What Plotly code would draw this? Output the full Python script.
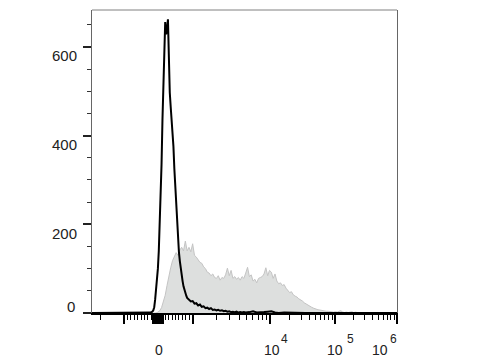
import numpy as np
import plotly.graph_objects as go

# ---------------- data (display channel units 0..1000, counts) ----------------
black_ch = [0, 150, 186, 189, 192, 195, 198, 201, 204, 207, 210, 213, 216, 219, 222, 225, 228, 231,
            234, 237, 240, 243, 246, 249, 252, 255, 258, 261, 264, 267, 270, 273, 276, 279, 282,
            285, 288, 291, 294, 297, 300, 303, 306, 309, 312, 318, 324, 330, 336, 342, 348, 354,
            360, 366, 372, 378, 384, 390, 396, 402, 408, 414, 420, 426, 432, 438, 444, 450, 456,
            462, 468, 474, 480, 486, 492, 498, 504, 516, 528, 540, 552, 564, 576, 588, 600, 612,
            630, 660, 700, 800, 1000]
black_counts = [0, 0, 0, 0, 1, 2, 3, 6, 13, 30, 52, 76, 100, 140, 192, 255, 335, 435,
                530, 615, 656, 628, 640, 662, 550, 497, 465, 437, 410, 375, 325, 285, 232, 192, 160,
                137, 117, 98, 85, 72, 60, 51, 44, 39, 34, 30, 26, 27, 21, 22, 17, 19,
                14, 15, 11, 12, 9, 11, 7, 8, 6, 7, 5, 6, 4, 5, 3, 4, 2,
                3, 2, 3, 1, 2, 1, 2, 1, 2, 4, 1, 1, 2, 3, 4, 1, 0,
                1, 0, 0, 0, 0]

gray_ch = [204, 210, 216, 222, 228, 234, 240, 246, 252, 258, 264, 270, 276, 282, 288, 294, 300,
           306, 312, 318, 324, 330, 336, 342, 348, 354, 360, 366, 372, 378, 384, 390, 396, 402,
           408, 414, 420, 426, 432, 438, 444, 450, 456, 462, 468, 474, 480, 486, 492, 498, 504,
           510, 516, 522, 528, 534, 540, 546, 552, 558, 564, 570, 576, 582, 588, 594, 600, 606,
           612, 618, 624, 630, 636, 642, 648, 654, 660, 666, 672, 678, 684, 690, 696, 702, 708,
           714, 720, 726, 732, 738, 744, 750, 756, 762, 768, 774, 780, 786, 792, 798, 804, 810,
           816, 822, 828, 834, 840, 846, 852, 858, 864, 870, 876, 882]
gray_counts = [0, 0, 2, 5, 12, 24, 40, 62, 85, 102, 118, 128, 136, 130, 142, 148, 140,
               162, 140, 148, 138, 156, 130, 126, 120, 114, 112, 104, 100, 92, 90, 84, 88, 80,
               78, 84, 74, 80, 78, 86, 101, 84, 96, 78, 82, 76, 80, 74, 82, 78, 90,
               103, 82, 86, 72, 76, 68, 78, 80, 82, 88, 102, 84, 96, 92, 78, 88, 72,
               66, 68, 62, 64, 56, 52, 46, 48, 41, 38, 36, 32, 30, 27, 23, 20, 18,
               15, 13, 11, 9, 8, 7, 6, 5, 5, 4, 4, 3, 3, 2, 3, 2, 4,
               5, 2, 1, 2, 1, 2, 3, 1, 2, 1, 0, 0]

y_major = [0, 200, 400, 600]
y_labels = ["", "200", "400", "600"]

x_major_vals = [-1000, 0, 1000, 10000, 100000, 1000000]
x_label_vals = [0, 10000, 100000, 1000000]
x_label_exps = ["", "4", "5", "6"]


# ---------------- logicle-like display scale ----------------
def to_channel(v):
    if 0 <= v <= 1000:
        return 216.4 + v * (331.1 - 216.4) / 1000
    if -1000 <= v < 0:
        return 216.4 + v * (216.4 - 104.9) / 1000
    if v > 1000:
        return float(np.interp(np.log10(v), [3, 4, 5, 6], [331.1, 583.6, 796.7, 1000.0]))
    return 104.9 - (np.log10(-v) - 3) * (583.6 - 331.1)


major_vals = list(x_major_vals) + [v for v in range(-140, 150, 10) if v != 0]
minor_vals = [-2000] + list(range(-900, 0, 100)) + list(range(100, 1000, 100))
for e in (3, 4, 5):
    minor_vals += [k * 10 ** e for k in range(2, 10)]

FONT = "Liberation Sans, Arial, sans-serif"
TXT = "#222222"

fig = go.Figure()
fig.add_trace(go.Scatter(x=gray_ch, y=gray_counts, mode="lines", fill="tozeroy",
                         fillcolor="rgb(221,223,222)",
                         line=dict(color="rgb(196,196,196)", width=1),
                         hoverinfo="skip", showlegend=False))
fig.add_trace(go.Scatter(x=black_ch, y=black_counts, mode="lines",
                         line=dict(color="black", width=2),
                         hoverinfo="skip", showlegend=False))

fig.update_layout(
    width=480, height=360,
    margin=dict(l=92, r=83, t=10, b=47),
    paper_bgcolor="white", plot_bgcolor="white",
    font=dict(family=FONT, color=TXT),
    xaxis=dict(
        range=[0, 1000], showgrid=False, zeroline=False,
        showline=True, linecolor="black", linewidth=2, mirror=False,
        tickmode="array", tickvals=[to_channel(v) for v in major_vals],
        ticktext=["" for _ in major_vals],
        ticks="outside", ticklen=9, tickwidth=2, tickcolor="black",
        minor=dict(tickmode="array", tickvals=[to_channel(v) for v in minor_vals],
                   ticks="outside", ticklen=5, tickwidth=1, tickcolor="black"),
    ),
    yaxis=dict(
        range=[0, 683], showgrid=False, zeroline=False,
        showline=True, linecolor="#666666", linewidth=1, mirror=True,
        tickmode="array", tickvals=y_major, ticktext=y_labels,
        ticks="outside", ticklen=8, tickwidth=2, tickcolor="#222222",
        tickfont=dict(size=15, family=FONT, color=TXT),
        ticklabelshift=9, ticklabelstandoff=3,
        minor=dict(dtick=50, ticks="outside", ticklen=4, tickwidth=1, tickcolor="#333333"),
    ),
    shapes=[dict(type="line", xref="paper", yref="paper", x0=0, x1=1, y0=1, y1=1,
                 line=dict(color="#808080", width=1))],
)

# y label "0"
fig.add_annotation(text="0", xref="paper", yref="y", x=0, y=0, xanchor="right",
                   yanchor="middle", xshift=-15, yshift=7, showarrow=False,
                   font=dict(size=15, family=FONT, color=TXT))

# x labels
base_shift = {0: 0.5, 10000: 1.5, 100000: 0.5, 1000000: -17}
sup_shift = {10000: 9, 100000: 10, 1000000: -9}
for v, ex in zip(x_label_vals, x_label_exps):
    xc = to_channel(v)
    if ex == "":
        fig.add_annotation(text="0", x=xc, xref="x", yref="paper", y=0, yanchor="middle",
                           xanchor="center", xshift=base_shift[v], yshift=-37, showarrow=False,
                           font=dict(size=14, family=FONT, color=TXT))
    else:
        fig.add_annotation(text="10", x=xc, xref="x", yref="paper", y=0, yanchor="middle",
                           xanchor="center", xshift=base_shift[v], yshift=-37, showarrow=False,
                           font=dict(size=14, family=FONT, color=TXT))
        fig.add_annotation(text=ex, x=xc, xref="x", yref="paper", y=0, yanchor="middle",
                           xanchor="left", xshift=sup_shift[v], yshift=-26, showarrow=False,
                           font=dict(size=12, family=FONT, color=TXT))

fig.write_html("out.html")
